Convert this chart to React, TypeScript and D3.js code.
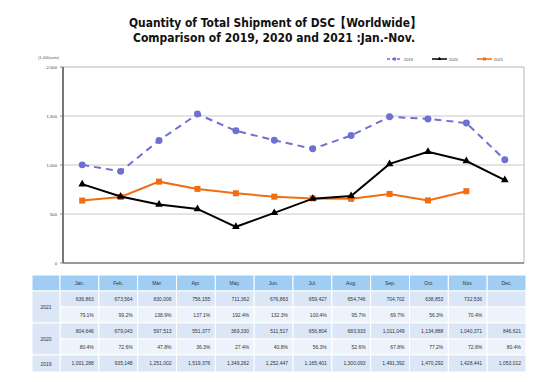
import React from "react";
import * as d3 from "d3";

const months = ["Jan.", "Feb.", "Mar.", "Apr.", "May.", "Jun.", "Jul.", "Aug.", "Sep.", "Oct.", "Nov.", "Dec."];
const v2019 = [1001288, 935148, 1251002, 1519376, 1349262, 1252447, 1165401, 1300093, 1491392, 1470292, 1428441, 1053012];
const v2020 = [804646, 679043, 597513, 551377, 369330, 511517, 656804, 683933, 1011049, 1134888, 1040371, 846621];
const v2021: (number | null)[] = [636863, 673564, 830006, 756155, 711362, 676863, 659427, 654746, 704702, 638853, 732536, null];
const p2021 = ["79.1%", "99.2%", "138.9%", "137.1%", "192.4%", "132.3%", "100.4%", "95.7%", "69.7%", "56.3%", "70.4%", ""];
const p2020 = ["80.4%", "72.6%", "47.8%", "36.3%", "27.4%", "40.8%", "56.3%", "52.6%", "67.8%", "77.2%", "72.8%", "80.4%"];
const yTicks = [0, 500, 1000, 1500, 2000];
const seriesNames = ["2019", "2020", "2021"];

const W = 553, H = 382;
const PL = 63, PR = 524, PT = 67, PB = 263;
const C19 = "#6f6fd4", C20 = "#000000", C21 = "#f26c12";
const FONT = "'Liberation Sans', Arial, sans-serif";
const TFONT = "Verdana, 'DejaVu Sans', sans-serif";

export default function App() {
  const x = d3.scaleBand<string>().domain(months).range([PL, PR]);
  const cx = (m: string) => (x(m) as number) + x.bandwidth() / 2;
  const y = d3.scaleLinear().domain([0, 2000]).range([PB, PT]);
  const fmt = d3.format(",");

  const line = d3.line<[string, number | null]>()
    .defined(d => d[1] != null)
    .x(d => cx(d[0]))
    .y(d => y((d[1] as number) / 1000));

  const d19 = months.map((m, i) => [m, v2019[i]] as [string, number | null]);
  const d20 = months.map((m, i) => [m, v2020[i]] as [string, number | null]);
  const d21 = months.map((m, i) => [m, v2021[i]] as [string, number | null]);

  const tri = d3.symbol().type(d3.symbolTriangle).size(26)();
  const sq = d3.symbol().type(d3.symbolSquare).size(36)();
  const circ = d3.symbol().type(d3.symbolCircle).size(38)();

  // table
  const tx = d3.scaleBand<string>().domain(months).range([60, 526]);
  const TL = 32;
  const rowTop = [275, 291, 307, 323, 339, 355, 372];
  const rowFill = ["#9fcdf4", "#dbe7f7", "#edf3fb", "#dbe7f7", "#edf3fb", "#dbe7f7"];
  const rows: string[][] = [
    v2021.map(v => (v == null ? "" : fmt(v))),
    p2021,
    v2020.map(v => fmt(v)),
    p2020,
    v2019.map(v => fmt(v)),
  ];

  const legendItems = [
    { name: seriesNames[0], color: C19, x: 387, sym: circ, dash: "3,2" },
    { name: seriesNames[1], color: C20, x: 432, sym: tri, dash: "" },
    { name: seriesNames[2], color: C21, x: 477, sym: sq, dash: "" },
  ];

  return (
    <svg width={W} height={H} style={{ position: "absolute", left: 0, top: 0, background: "#fff" }} fontFamily={FONT}>
      <rect width={W} height={H} fill="#fff" />
      {/* title */}
      <text x={275} y={27} textAnchor="middle" fontSize={12.5} fontWeight="bold" fontFamily={TFONT} fill="#111" textLength={292} lengthAdjust="spacingAndGlyphs">
        Quantity of Total Shipment of DSC【Worldwide】
      </text>
      <text x={274} y={42} textAnchor="middle" fontSize={12.5} fontWeight="bold" fontFamily={TFONT} fill="#111" textLength={282} lengthAdjust="spacingAndGlyphs">
        Comparison of 2019, 2020 and 2021 :Jan.-Nov.
      </text>

      {/* unit */}
      <text x={38} y={59} fontSize={4} fill="#555">(1,000units)</text>

      {/* legend */}
      {legendItems.map(l => (
        <g key={l.name}>
          <line x1={l.x} x2={l.x + 15} y1={59} y2={59} stroke={l.color} strokeWidth={1.5} strokeDasharray={l.dash || undefined} />
          <path d={l.sym} transform={`translate(${l.x + 7.5},59) scale(0.5)`} fill={l.color} />
          <text x={l.x + 17} y={60.5} fontSize={4} fill="#444">{l.name}</text>
        </g>
      ))}

      {/* plot frame */}
      <line x1={PL} x2={PR} y1={PT} y2={PT} stroke="#b5b5b5" strokeWidth={1} />
      <line x1={PR} x2={PR} y1={PT} y2={PB} stroke="#b5b5b5" strokeWidth={1} />
      {yTicks.filter(t => t > 0 && t < 2000).map(t => (
        <line key={t} x1={PL} x2={PR} y1={y(t)} y2={y(t)} stroke="#c8c8c8" strokeWidth={1} />
      ))}
      {yTicks.map(t => (
        <g key={"t" + t}>
          <line x1={PL - 3} x2={PL} y1={y(t)} y2={y(t)} stroke="#888" strokeWidth={1} />
          <text x={PL - 6} y={y(t) + 1.5} textAnchor="end" fontSize={4.2} fill="#444">{fmt(t)}</text>
        </g>
      ))}
      <line x1={PL} x2={PR} y1={PB} y2={PB} stroke="#777" strokeWidth={1.5} />
      <line x1={PL} x2={PL} y1={PT} y2={PB} stroke="#777" strokeWidth={2} />

      {/* series */}
      <path d={line(d19) || ""} fill="none" stroke={C19} strokeWidth={2} strokeDasharray="7,5" />
      {d19.map(d => <path key={"c" + d[0]} d={circ} transform={`translate(${cx(d[0])},${y((d[1] as number) / 1000)})`} fill={C19} />)}
      <path d={line(d21) || ""} fill="none" stroke={C21} strokeWidth={2} />
      {d21.filter(d => d[1] != null).map(d => <path key={"s" + d[0]} d={sq} transform={`translate(${cx(d[0])},${y((d[1] as number) / 1000)})`} fill={C21} />)}
      <path d={line(d20) || ""} fill="none" stroke={C20} strokeWidth={2} />
      {d20.map(d => <path key={"t" + d[0]} d={tri} transform={`translate(${cx(d[0])},${y((d[1] as number) / 1000)})`} fill={C20} />)}

      {/* table */}
      <g>
        <rect x={TL} y={rowTop[0]} width={60 - TL} height={rowTop[1] - rowTop[0]} fill={rowFill[0]} stroke="#fff" strokeWidth={1} />
        {months.map(m => (
          <g key={"h" + m}>
            <rect x={tx(m)} y={rowTop[0]} width={tx.bandwidth()} height={rowTop[1] - rowTop[0]} fill={rowFill[0]} stroke="#fff" strokeWidth={1} />
            <text x={(tx(m) as number) + tx.bandwidth() / 2} y={rowTop[0] + 10} textAnchor="middle" fontSize={5} fill="#333">{m}</text>
          </g>
        ))}
        {rows.map((r, ri) => (
          <g key={"r" + ri}>
            {months.map((m, i) => (
              <g key={m}>
                <rect x={tx(m)} y={rowTop[ri + 1]} width={tx.bandwidth()} height={rowTop[ri + 2] - rowTop[ri + 1]} fill={rowFill[ri + 1]} stroke="#fff" strokeWidth={1} />
                <text x={(tx(m) as number) + tx.bandwidth() - 5} y={rowTop[ri + 1] + 10} textAnchor="end" fontSize={5} fill="#333">{r[i]}</text>
              </g>
            ))}
          </g>
        ))}
        {[
          { label: seriesNames[2], top: rowTop[1], bot: rowTop[3] },
          { label: seriesNames[1], top: rowTop[3], bot: rowTop[5] },
          { label: seriesNames[0], top: rowTop[5], bot: rowTop[6] },
        ].map(c => (
          <g key={"y" + c.label}>
            <rect x={TL} y={c.top} width={60 - TL} height={c.bot - c.top} fill="#dbe7f7" stroke="#fff" strokeWidth={1} />
            <text x={(TL + 60) / 2} y={(c.top + c.bot) / 2 + 2} textAnchor="middle" fontSize={5} fill="#333">{c.label}</text>
          </g>
        ))}
      </g>
    </svg>
  );
}
